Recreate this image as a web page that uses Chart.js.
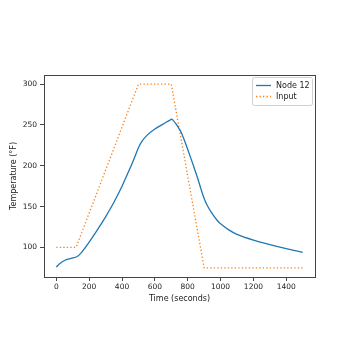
<!DOCTYPE html>
<html>
<head>
<meta charset="utf-8">
<script src="https://cdn.jsdelivr.net/npm/chart.js@4.4.0/dist/chart.umd.min.js"></script>
<style>
  html, body { margin: 0; padding: 0; background: #fff; }
  #wrap { width: 350px; height: 350px; }
</style>
</head>
<body>
<div id="wrap"><canvas id="c" width="350" height="350"></canvas></div>
<script>
// Node 12 temperature response (time in seconds, temperature in °F)
const nodeTime = [0, 20, 50, 90, 125, 150, 175, 200, 250, 300, 350, 400, 450, 480, 500, 520, 550, 600, 650, 700, 710, 730, 760, 800, 830, 860, 880, 900, 920, 950, 980, 1000, 1050, 1100, 1200, 1300, 1400, 1500];
const nodeTemp = [76, 80, 84, 86.5, 88.5, 93, 99.5, 106.5, 121.5, 137.5, 155, 175, 197.5, 212, 222, 229.5, 237, 245, 251, 257, 256, 251, 241, 220, 203, 185, 172, 160, 151, 141, 133, 129, 121.5, 116, 109, 103.5, 98.5, 94];

// Input temperature schedule
const inputTime = [0, 120, 500, 700, 900, 1500];
const inputTemp = [100, 100, 300, 300, 75, 75];

// Axis ticks and limits
const xTicks = [0, 200, 400, 600, 800, 1000, 1200, 1400];
const yTicks = [100, 150, 200, 250, 300];
const xLimits = [-75, 1575];
const yLimits = [63.75, 311.25];

const seriesNames = ['Node 12', 'Input'];
const seriesColors = ['#1f77b4', '#ff7f0e'];

const toPoints = (xs, ys) => xs.map((x, i) => ({ x: x, y: ys[i] }));

const fontFamily = '"DejaVu Sans", sans-serif';
const textColor = '#222';

// Frame around the plotting area
const framePlugin = {
  id: 'frame',
  afterDatasetsDraw(chart) {
    const { ctx, chartArea: a } = chart;
    ctx.save();
    ctx.strokeStyle = '#444';
    ctx.lineWidth = 1;
    ctx.strokeRect(a.left + 0.5, a.top + 0.5, a.right - a.left, a.bottom - a.top);
    ctx.restore();
  }
};

// Boxed legend inside the upper right corner of the plot
const insideLegend = {
  id: 'insideLegend',
  afterDraw(chart) {
    const { ctx, chartArea: a } = chart;
    const w = 60, h = 28;
    const x0 = a.right - 3 - w, y0 = a.top + 2;
    ctx.save();
    ctx.fillStyle = 'rgba(255,255,255,0.8)';
    ctx.strokeStyle = '#d0d0d0';
    ctx.lineWidth = 1;
    ctx.beginPath();
    ctx.roundRect(x0 + 0.5, y0 + 0.5, w, h, 2);
    ctx.fill();
    ctx.stroke();
    ctx.font = '8px ' + fontFamily;
    ctx.textBaseline = 'middle';
    ctx.fillStyle = textColor;
    chart.data.datasets.forEach((ds, i) => {
      const yy = y0 + 8.5 + i * 11;
      ctx.strokeStyle = ds.borderColor;
      ctx.lineWidth = ds.borderWidth;
      ctx.setLineDash(ds.borderDash || []);
      ctx.beginPath();
      ctx.moveTo(x0 + 4, yy);
      ctx.lineTo(x0 + 19, yy);
      ctx.stroke();
      ctx.setLineDash([]);
      ctx.fillText(ds.label, x0 + 24, yy);
    });
    ctx.restore();
  }
};

new Chart(document.getElementById('c'), {
  type: 'line',
  data: {
    datasets: [
      {
        label: seriesNames[0],
        data: toPoints(nodeTime, nodeTemp),
        borderColor: seriesColors[0],
        borderWidth: 1.3,
        pointRadius: 0,
        tension: 0.3,
        fill: false
      },
      {
        label: seriesNames[1],
        data: toPoints(inputTime, inputTemp),
        borderColor: seriesColors[1],
        borderWidth: 1.3,
        borderDash: [1.3, 2.2],
        pointRadius: 0,
        tension: 0,
        fill: false
      }
    ]
  },
  options: {
    responsive: false,
    animation: false,
    devicePixelRatio: 1,
    layout: { padding: { top: 75, left: 9, right: 35, bottom: 46 } },
    plugins: {
      legend: { display: false },
      tooltip: { enabled: false }
    },
    scales: {
      x: {
        type: 'linear',
        min: xLimits[0],
        max: xLimits[1],
        afterBuildTicks(scale) { scale.ticks = xTicks.map(v => ({ value: v })); },
        afterFit(scale) { scale.height = 27; },
        grid: { drawOnChartArea: false, drawTicks: true, tickLength: 4, color: '#444' },
        border: { display: false },
        ticks: { color: textColor, font: { family: fontFamily, size: 7.5 }, padding: 2, maxRotation: 0, callback: v => String(v) },
        title: { display: true, text: 'Time (seconds)', color: textColor, font: { family: fontFamily, size: 8 }, padding: 0 }
      },
      y: {
        type: 'linear',
        min: yLimits[0],
        max: yLimits[1],
        afterBuildTicks(scale) { scale.ticks = yTicks.map(v => ({ value: v })); },
        afterFit(scale) { scale.width = 35; },
        grid: { drawOnChartArea: false, drawTicks: true, tickLength: 4, color: '#444' },
        border: { display: false },
        ticks: { color: textColor, font: { family: fontFamily, size: 7.5 }, padding: 3, callback: v => String(v) },
        title: { display: true, text: 'Temperature (°F)', color: textColor, font: { family: fontFamily, size: 8 }, padding: 0 }
      }
    }
  },
  plugins: [framePlugin, insideLegend]
});
</script>
</body>
</html>
